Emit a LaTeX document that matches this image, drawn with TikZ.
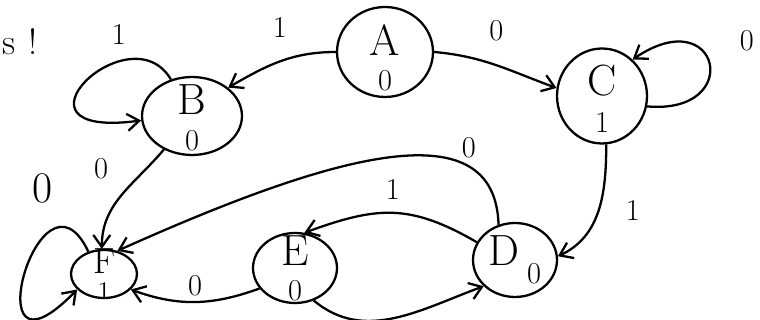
\documentclass[tikz,border=0pt]{standalone}
\usepackage{tikz}
\usetikzlibrary{shapes.geometric, arrows.meta}

\begin{document}
\begin{tikzpicture}[
    x=0.02cm, y=0.02cm,
    st/.style={draw, ellipse, line width=1.3pt, inner sep=-16pt, align=center, font=\Huge},
    trans/.style={-{Straight Barb[length=2.4mm, width=3.4mm]}, line width=1.3pt},
    val/.style={font=\LARGE, inner sep=1pt},
]
\useasboundingbox (0,0) rectangle (760,320);

% states: name and output (rule = extra room above the name)
\node[st, minimum width=1.92cm, minimum height=1.80cm] (A) at (385,268) {\rule{0pt}{24pt}A\\[-10pt]\LARGE 0};
\node[st, minimum width=2.00cm, minimum height=1.56cm] (B) at (192,204) {\rule{0pt}{19pt}B\\[-10pt]\LARGE 0};
\node[st, minimum width=1.80cm, minimum height=1.90cm] (C) at (602,224) {\rule{0pt}{20pt}C\\[-9pt]\LARGE 1};
\node[st, minimum width=1.68cm, minimum height=1.48cm] (D) at (515,60) {D\,\raisebox{-10pt}{\LARGE 0}};
\node[st, minimum width=1.68cm, minimum height=1.40cm] (E) at (295,52) {E\\[-10pt]\LARGE 0};
\node[st, minimum width=1.32cm, minimum height=0.96cm, font=\huge] (F) at (104,46) {F\\[-10pt]\Large 1};

\node[font=\huge] (note) at (20,278) {s\,\,!};

% transitions
\draw[trans] (A.west) to[out=180, in=30] node[val, above=12pt] (ab) {1} (B.north east);
\draw[trans] (A.east) to[out=-5, in=160] node[val, above=12pt] (ac) {0} (C.170);
\draw[trans] (B.120) .. controls (130,310) and (-5,180) .. node[val, pos=0.3, above=8pt] (bb) {1} (B.185);
\draw[trans] (B.-130) to[out=-130, in=90] node[val, pos=0.2, left=20pt] (bf) {0} (F.95);
\draw[trans] (C.-13) .. controls (745,205) and (720,320) .. node[val, pos=0.6, right=19pt, yshift=7pt] (cc) {0} (C.50);
\draw[trans] (C.-85) to[out=-90, in=25] node[val, right=14pt] (cd) {1} (D.5);
\draw[trans] (D.115) .. controls (495,210) and (340,169) .. node[val, pos=0.25, above=3pt] (df) {0} (F.60);
\draw[trans] (D.155) to[out=150, in=20, looseness=1.15] node[val, above=6pt] (de) {1} (E.75);
\draw[trans] (E.-60) to[out=-40, in=200] (D.220);
\draw[trans] (E.210) to[out=200, in=-20] node[val, above=2pt] (ef) {0} (F.-30);
\draw[trans] (F.125) .. controls (40,170) and (-30,-80) .. node[val, font=\Huge, pos=0.2, above=12pt, xshift=-9pt] (ff) {0} (F.210);
\end{tikzpicture}
\end{document}
